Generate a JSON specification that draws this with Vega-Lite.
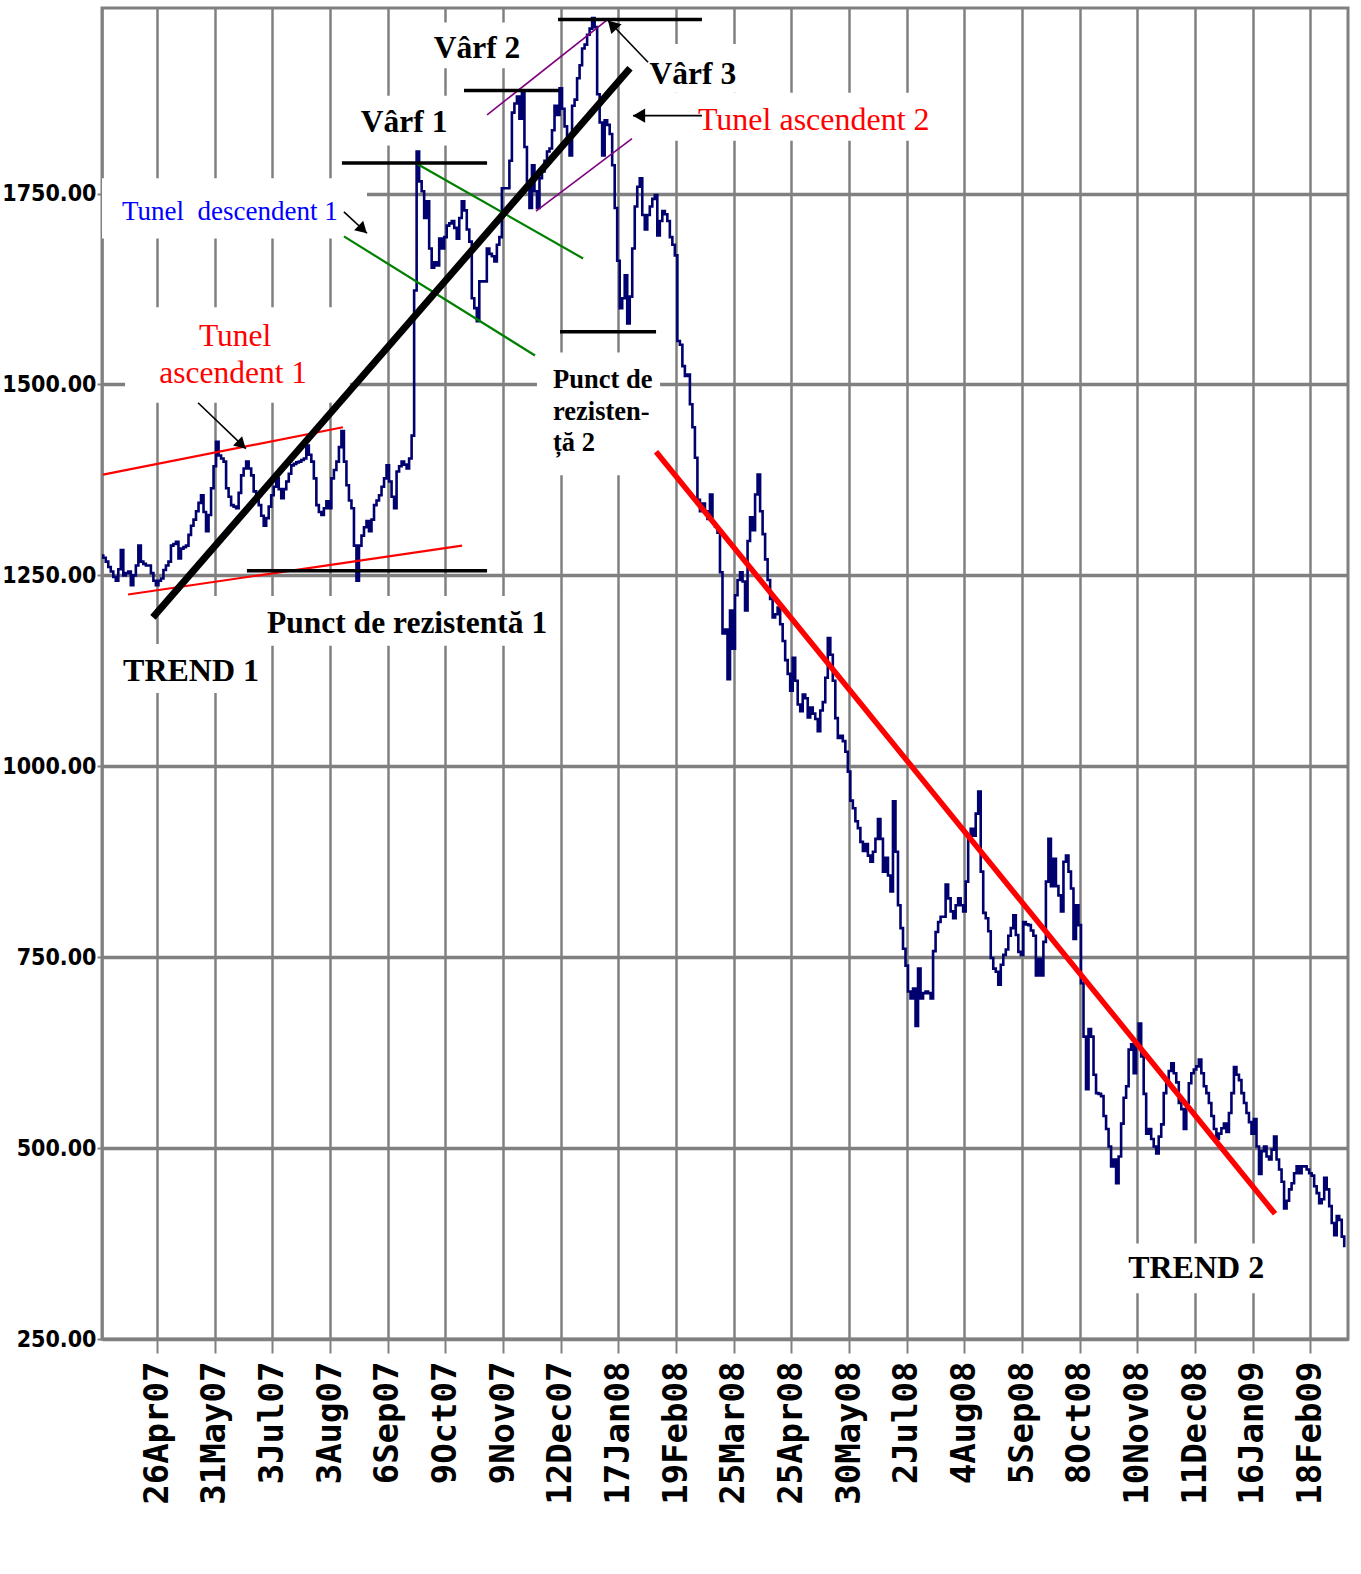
{
"$schema":"https://vega.github.io/schema/vega-lite/v6.json",
"width":1246,"height":1331,
"autosize":{"type":"none"},
"padding":{"left":102,"top":8,"right":13,"bottom":235},
"background":"#ffffff",
"config":{"view":{"stroke":"#808080","strokeWidth":3}},
"datasets":{
"series":[
{"d":0,"v":1276},{"d":1,"v":1273},{"d":2,"v":1268},{"d":3,"v":1261},{"d":4,"v":1255},{"d":5,"v":1248},{"d":6,"v":1243},{"d":7,"v":1258},{"d":8,"v":1283},{"d":9,"v":1250},
{"d":10,"v":1253},{"d":11,"v":1255},{"d":12,"v":1237},{"d":13,"v":1250},{"d":14,"v":1263},{"d":15,"v":1289},{"d":16,"v":1268},{"d":17,"v":1265},{"d":18,"v":1263},{"d":19,"v":1263},
{"d":20,"v":1253},{"d":21,"v":1243},{"d":22,"v":1237},{"d":23,"v":1243},{"d":24,"v":1246},{"d":25,"v":1257},{"d":26,"v":1263},{"d":27,"v":1268},{"d":28,"v":1289},{"d":29,"v":1291},
{"d":30,"v":1294},{"d":31,"v":1272},{"d":32,"v":1285},{"d":33,"v":1287},{"d":34,"v":1289},{"d":35,"v":1303},{"d":36,"v":1315},{"d":37,"v":1323},{"d":38,"v":1334},{"d":39,"v":1345},
{"d":40,"v":1355},{"d":41,"v":1333},{"d":42,"v":1308},{"d":43,"v":1329},{"d":44,"v":1364},{"d":45,"v":1393},{"d":46,"v":1425},{"d":47,"v":1407},{"d":48,"v":1403},{"d":49,"v":1399},
{"d":50,"v":1364},{"d":51,"v":1353},{"d":52,"v":1342},{"d":53,"v":1340},{"d":54,"v":1338},{"d":55,"v":1358},{"d":56,"v":1381},{"d":57,"v":1390},{"d":58,"v":1399},{"d":59,"v":1390},
{"d":60,"v":1381},{"d":61,"v":1360},{"d":62,"v":1351},{"d":63,"v":1342},{"d":64,"v":1328},{"d":65,"v":1315},{"d":66,"v":1325},{"d":67,"v":1340},{"d":68,"v":1355},{"d":69,"v":1366},
{"d":70,"v":1377},{"d":71,"v":1363},{"d":72,"v":1351},{"d":73,"v":1363},{"d":74,"v":1373},{"d":75,"v":1383},{"d":76,"v":1394},{"d":77,"v":1396},{"d":78,"v":1398},{"d":79,"v":1399},
{"d":80,"v":1401},{"d":81,"v":1403},{"d":82,"v":1420},{"d":83,"v":1408},{"d":84,"v":1399},{"d":85,"v":1377},{"d":86,"v":1342},{"d":87,"v":1333},{"d":88,"v":1329},{"d":89,"v":1338},
{"d":90,"v":1347},{"d":91,"v":1338},{"d":92,"v":1377},{"d":93,"v":1388},{"d":94,"v":1399},{"d":95,"v":1418},{"d":96,"v":1439},{"d":97,"v":1399},{"d":98,"v":1368},{"d":99,"v":1348},
{"d":100,"v":1338},{"d":101,"v":1289},{"d":102,"v":1243},{"d":103,"v":1289},{"d":104,"v":1302},{"d":105,"v":1313},{"d":106,"v":1321},{"d":107,"v":1308},{"d":108,"v":1323},{"d":109,"v":1342},
{"d":110,"v":1348},{"d":111,"v":1355},{"d":112,"v":1366},{"d":113,"v":1377},{"d":114,"v":1394},{"d":115,"v":1373},{"d":116,"v":1353},{"d":117,"v":1338},{"d":118,"v":1386},{"d":119,"v":1393},
{"d":120,"v":1399},{"d":121,"v":1395},{"d":122,"v":1390},{"d":123,"v":1403},{"d":124,"v":1433},{"d":125,"v":1623},{"d":126,"v":1805},{"d":127,"v":1766},{"d":128,"v":1753},{"d":129,"v":1718},
{"d":130,"v":1740},{"d":131,"v":1678},{"d":132,"v":1653},{"d":133,"v":1660},{"d":134,"v":1656},{"d":135,"v":1691},{"d":136,"v":1678},{"d":137,"v":1693},{"d":138,"v":1708},{"d":139,"v":1711},
{"d":140,"v":1714},{"d":141,"v":1705},{"d":142,"v":1691},{"d":143,"v":1718},{"d":144,"v":1740},{"d":145,"v":1728},{"d":146,"v":1703},{"d":147,"v":1687},{"d":148,"v":1613},{"d":149,"v":1600},
{"d":150,"v":1583},{"d":151,"v":1635},{"d":152,"v":1635},{"d":153,"v":1635},{"d":154,"v":1678},{"d":155,"v":1671},{"d":156,"v":1668},{"d":157,"v":1661},{"d":158,"v":1683},{"d":159,"v":1693},
{"d":160,"v":1757},{"d":161,"v":1757},{"d":162,"v":1757},{"d":163,"v":1793},{"d":164,"v":1856},{"d":165,"v":1868},{"d":166,"v":1877},{"d":167,"v":1848},{"d":168,"v":1883},{"d":169,"v":1811},
{"d":170,"v":1766},{"d":171,"v":1731},{"d":172,"v":1787},{"d":173,"v":1753},{"d":174,"v":1731},{"d":175,"v":1770},{"d":176,"v":1779},{"d":177,"v":1793},{"d":178,"v":1805},{"d":179,"v":1809},
{"d":180,"v":1833},{"d":181,"v":1865},{"d":182,"v":1853},{"d":183,"v":1888},{"d":184,"v":1861},{"d":185,"v":1838},{"d":186,"v":1818},{"d":187,"v":1800},{"d":188,"v":1865},{"d":189,"v":1873},
{"d":190,"v":1901},{"d":191,"v":1918},{"d":192,"v":1940},{"d":193,"v":1945},{"d":194,"v":1958},{"d":195,"v":1966},{"d":196,"v":1980},{"d":197,"v":1968},{"d":198,"v":1880},{"d":199,"v":1843},
{"d":200,"v":1800},{"d":201,"v":1846},{"d":202,"v":1840},{"d":203,"v":1828},{"d":204,"v":1787},{"d":205,"v":1731},{"d":206,"v":1662},{"d":207,"v":1600},{"d":208,"v":1613},{"d":209,"v":1643},
{"d":210,"v":1580},{"d":211,"v":1615},{"d":212,"v":1678},{"d":213,"v":1733},{"d":214,"v":1759},{"d":215,"v":1770},{"d":216,"v":1722},{"d":217,"v":1703},{"d":218,"v":1722},{"d":219,"v":1733},
{"d":220,"v":1743},{"d":221,"v":1748},{"d":222,"v":1695},{"d":223,"v":1714},{"d":224,"v":1727},{"d":225,"v":1723},{"d":226,"v":1714},{"d":227,"v":1693},{"d":228,"v":1683},{"d":229,"v":1669},
{"d":230,"v":1557},{"d":231,"v":1552},{"d":232,"v":1524},{"d":233,"v":1511},{"d":234,"v":1513},{"d":235,"v":1474},{"d":236,"v":1444},{"d":237,"v":1404},{"d":238,"v":1349},{"d":239,"v":1334},
{"d":240,"v":1344},{"d":241,"v":1334},{"d":242,"v":1324},{"d":243,"v":1356},{"d":244,"v":1319},{"d":245,"v":1314},{"d":246,"v":1306},{"d":247,"v":1254},{"d":248,"v":1174},{"d":249,"v":1179},
{"d":250,"v":1114},{"d":251,"v":1204},{"d":252,"v":1154},{"d":253,"v":1224},{"d":254,"v":1244},{"d":255,"v":1254},{"d":256,"v":1242},{"d":257,"v":1204},{"d":258,"v":1295},{"d":259,"v":1326},
{"d":260,"v":1309},{"d":261,"v":1356},{"d":262,"v":1382},{"d":263,"v":1334},{"d":264,"v":1304},{"d":265,"v":1271},{"d":266,"v":1244},{"d":267,"v":1219},{"d":268,"v":1195},{"d":269,"v":1199},
{"d":270,"v":1208},{"d":271,"v":1186},{"d":272,"v":1164},{"d":273,"v":1139},{"d":274,"v":1121},{"d":275,"v":1099},{"d":276,"v":1142},{"d":277,"v":1112},{"d":278,"v":1081},{"d":279,"v":1072},
{"d":280,"v":1094},{"d":281,"v":1089},{"d":282,"v":1064},{"d":283,"v":1077},{"d":284,"v":1069},{"d":285,"v":1062},{"d":286,"v":1046},{"d":287,"v":1073},{"d":288,"v":1084},{"d":289,"v":1116},
{"d":290,"v":1168},{"d":291,"v":1146},{"d":292,"v":1112},{"d":293,"v":1063},{"d":294,"v":1037},{"d":295,"v":1040},{"d":296,"v":1033},{"d":297,"v":1019},{"d":298,"v":993},{"d":299,"v":955},
{"d":300,"v":945},{"d":301,"v":928},{"d":302,"v":919},{"d":303,"v":901},{"d":304,"v":889},{"d":305,"v":898},{"d":306,"v":883},{"d":307,"v":875},{"d":308,"v":888},{"d":309,"v":905},
{"d":310,"v":931},{"d":311,"v":905},{"d":312,"v":862},{"d":313,"v":880},{"d":314,"v":857},{"d":315,"v":836},{"d":316,"v":954},{"d":317,"v":888},{"d":318,"v":818},{"d":319,"v":788},
{"d":320,"v":761},{"d":321,"v":739},{"d":322,"v":705},{"d":323,"v":696},{"d":324,"v":709},{"d":325,"v":660},{"d":326,"v":735},{"d":327,"v":696},{"d":328,"v":703},{"d":329,"v":705},
{"d":330,"v":703},{"d":331,"v":696},{"d":332,"v":758},{"d":333,"v":783},{"d":334,"v":796},{"d":335,"v":803},{"d":336,"v":803},{"d":337,"v":845},{"d":338,"v":827},{"d":339,"v":810},
{"d":340,"v":801},{"d":341,"v":818},{"d":342,"v":827},{"d":343,"v":818},{"d":344,"v":810},{"d":345,"v":849},{"d":346,"v":905},{"d":347,"v":918},{"d":348,"v":909},{"d":349,"v":938},
{"d":350,"v":967},{"d":351,"v":862},{"d":352,"v":808},{"d":353,"v":801},{"d":354,"v":784},{"d":355,"v":749},{"d":356,"v":735},{"d":357,"v":731},{"d":358,"v":714},{"d":359,"v":740},
{"d":360,"v":753},{"d":361,"v":760},{"d":362,"v":778},{"d":363,"v":788},{"d":364,"v":805},{"d":365,"v":779},{"d":366,"v":757},{"d":367,"v":753},{"d":368,"v":796},{"d":369,"v":793},
{"d":370,"v":792},{"d":371,"v":785},{"d":372,"v":778},{"d":373,"v":726},{"d":374,"v":748},{"d":375,"v":726},{"d":376,"v":770},{"d":377,"v":849},{"d":378,"v":905},{"d":379,"v":843},
{"d":380,"v":879},{"d":381,"v":843},{"d":382,"v":831},{"d":383,"v":810},{"d":384,"v":875},{"d":385,"v":883},{"d":386,"v":862},{"d":387,"v":840},{"d":388,"v":774},{"d":389,"v":818},
{"d":390,"v":792},{"d":391,"v":716},{"d":392,"v":646},{"d":393,"v":577},{"d":394,"v":656},{"d":395,"v":646},{"d":396,"v":596},{"d":397,"v":572},{"d":398,"v":571},{"d":399,"v":568},
{"d":400,"v":542},{"d":401,"v":525},{"d":402,"v":502},{"d":403,"v":476},{"d":404,"v":485},{"d":405,"v":454},{"d":406,"v":489},{"d":407,"v":532},{"d":408,"v":566},{"d":409,"v":581},
{"d":410,"v":629},{"d":411,"v":636},{"d":412,"v":598},{"d":413,"v":637},{"d":414,"v":663},{"d":415,"v":620},{"d":416,"v":571},{"d":417,"v":519},{"d":418,"v":525},{"d":419,"v":512},
{"d":420,"v":502},{"d":421,"v":493},{"d":422,"v":515},{"d":423,"v":531},{"d":424,"v":572},{"d":425,"v":586},{"d":426,"v":601},{"d":427,"v":611},{"d":428,"v":598},{"d":429,"v":586},
{"d":430,"v":559},{"d":431,"v":551},{"d":432,"v":525},{"d":433,"v":559},{"d":434,"v":585},{"d":435,"v":598},{"d":436,"v":603},{"d":437,"v":607},{"d":438,"v":616},{"d":439,"v":598},
{"d":440,"v":581},{"d":441,"v":572},{"d":442,"v":559},{"d":443,"v":542},{"d":444,"v":525},{"d":445,"v":512},{"d":446,"v":519},{"d":447,"v":526},{"d":448,"v":532},{"d":449,"v":521},
{"d":450,"v":546},{"d":451,"v":572},{"d":452,"v":606},{"d":453,"v":596},{"d":454,"v":589},{"d":455,"v":572},{"d":456,"v":559},{"d":457,"v":546},{"d":458,"v":534},{"d":459,"v":519},
{"d":460,"v":538},{"d":461,"v":502},{"d":462,"v":466},{"d":463,"v":496},{"d":464,"v":502},{"d":465,"v":489},{"d":466,"v":485},{"d":467,"v":498},{"d":468,"v":515},{"d":469,"v":485},
{"d":470,"v":472},{"d":471,"v":456},{"d":472,"v":421},{"d":473,"v":431},{"d":474,"v":446},{"d":475,"v":454},{"d":476,"v":467},{"d":477,"v":476},{"d":478,"v":467},{"d":479,"v":476},
{"d":480,"v":476},{"d":481,"v":472},{"d":482,"v":467},{"d":483,"v":464},{"d":484,"v":450},{"d":485,"v":441},{"d":486,"v":428},{"d":487,"v":433},{"d":488,"v":461},{"d":489,"v":446},
{"d":490,"v":424},{"d":491,"v":402},{"d":492,"v":386},{"d":493,"v":411},{"d":494,"v":406},{"d":495,"v":384},{"d":496,"v":372}
],
"boxes":[
{"d":100.9,"v":1878,"d2":140.8,"v2":1813},
{"d":130.0,"v":1974,"d2":169.9,"v2":1914},
{"d":214.6,"v":1946,"d2":255.3,"v2":1882},
{"d":214.6,"v":1882,"d2":332.3,"v2":1819},
{"d":0,"v":1770,"d2":105.7,"v2":1691},
{"d":9.2,"v":1601,"d2":98.9,"v2":1476},
{"d":173.5,"v":1542,"d2":222.6,"v2":1381},
{"d":41.1,"v":1223,"d2":182.7,"v2":1158},
{"d":5.2,"v":1160,"d2":65.0,"v2":1096},
{"d":406.1,"v":375,"d2":465.9,"v2":310}
],
"redThin":[{"d":0.4,"v":1382,"d2":96.1,"v2":1444},{"d":10.4,"v":1225,"d2":143.6,"v2":1289}],
"green":[{"d":125.6,"v":1789,"d2":191.9,"v2":1665},{"d":96.5,"v":1694,"d2":172.7,"v2":1538}],
"purple":[{"d":153.6,"v":1853,"d2":201.4,"v2":1977},{"d":173.1,"v":1727,"d2":211.4,"v2":1822}],
"blackH":[
{"d":57.8,"v":1256,"d2":153.6,"v2":1256},
{"d":95.7,"v":1790,"d2":153.6,"v2":1790},
{"d":144.4,"v":1885,"d2":182.3,"v2":1885},
{"d":181.9,"v":1978,"d2":239.3,"v2":1978},
{"d":182.7,"v":1569,"d2":221.0,"v2":1569}
],
"trend1":[{"d":20.3,"v":1195,"d2":210.6,"v2":1914}],
"trend2":[{"d":221.0,"v":1412,"d2":467.9,"v2":414}],
"arrows":[
{"d":38.3,"v":1476,"d2":57.4,"v2":1416},
{"d":96.5,"v":1726,"d2":105.7,"v2":1698},
{"d":217.8,"v":1922,"d2":201.8,"v2":1977},
{"d":239.3,"v":1852,"d2":211.8,"v2":1852}
],
"headA1":[{"d":55.7,"v":1421}],
"headA2":[{"d":104.0,"v":1703}],
"headA3":[{"d":203.5,"v":1971}],
"headA4":[{"d":214.2,"v":1852}],
"txtBoldCenter":[
{"label":"Vârf 1","d":120.5,"v":1831},
{"label":"Vârf 2","d":149.6,"v":1927},
{"label":"Vârf 3","d":235.7,"v":1894},
{"label":"Punct de rezistentă 1","d":121.7,"v":1175}
],
"txtBoldLeft":[
{"label":"TREND 1","d":8.4,"v":1112},
{"label":"TREND 2","d":409.3,"v":330}
],
"txtBoldSmall":[
{"label":"Punct de","d":179.9,"v":1495},
{"label":"rezisten-","d":179.9,"v":1454},
{"label":"ță 2","d":179.9,"v":1413}
],
"txtRedCenter":[
{"label":"Tunel","d":53.1,"v":1551},
{"label":"ascendent 1","d":52.3,"v":1502}
],
"txtRedLeft":[{"label":"Tunel ascendent 2","d":237.7,"v":1833}],
"txtBlue":[{"label":"Tunel\u00a0 descendent 1","d":8.0,"v":1715}]
},
"encoding":{
"x":{"field":"d","type":"quantitative","scale":{"domain":[0,497],"nice":false,"zero":false},
"axis":{"title":null,"values":[22,45,68,91,114,137,160,183,206,229,252,275,298,321,344,367,390,413,436,459,482],
"labelExpr":"['26Apr07','31May07','3Jul07','3Aug07','6Sep07','9Oct07','9Nov07','12Dec07','17Jan08','19Feb08','25Mar08','25Apr08','30May08','2Jul08','4Aug08','5Sep08','8Oct08','10Nov08','11Dec08','16Jan09','18Feb09'][round((datum.value-22)/23)]",
"labelAngle":270,"labelAlign":"right","labelBaseline":"middle","labelFont":"DejaVu Sans Mono","labelFontSize":34,"labelFontWeight":"bold","labelColor":"#000000","labelPadding":8,"labelOverlap":false,"labelFlush":false,"labelBound":false,
"grid":true,"gridColor":"#808080","gridWidth":2.5,"gridOpacity":1,"domainColor":"#808080","domainWidth":3,"tickColor":"#808080","tickWidth":2,"tickSize":14}},
"y":{"field":"v","type":"quantitative","scale":{"domain":[250,1993],"nice":false,"zero":false},
"axis":{"title":null,"values":[250,500,750,1000,1250,1500,1750],"format":".2f","labelFont":"DejaVu Sans Condensed","labelFontSize":23,"labelFontWeight":"bold","labelColor":"#000000","labelPadding":1,
"grid":true,"gridColor":"#808080","gridWidth":3.5,"gridOpacity":1,"domainColor":"#808080","domainWidth":2.5,"tickColor":"#808080","tickSize":5,"tickWidth":2}}
},
"layer":[
{"data":{"name":"boxes"},"mark":{"type":"rect","fill":"#ffffff","stroke":null},"encoding":{"x2":{"field":"d2"},"y2":{"field":"v2"}}},
{"data":{"name":"series"},"mark":{"type":"line","color":"#00006e","strokeWidth":2.6,"interpolate":"step"}},
{"data":{"name":"redThin"},"mark":{"type":"rule","color":"#ff0000","strokeWidth":2.2},"encoding":{"x2":{"field":"d2"},"y2":{"field":"v2"}}},
{"data":{"name":"green"},"mark":{"type":"rule","color":"#008000","strokeWidth":2.2},"encoding":{"x2":{"field":"d2"},"y2":{"field":"v2"}}},
{"data":{"name":"purple"},"mark":{"type":"rule","color":"#800080","strokeWidth":1.6},"encoding":{"x2":{"field":"d2"},"y2":{"field":"v2"}}},
{"data":{"name":"blackH"},"mark":{"type":"rule","color":"#000000","strokeWidth":3.5},"encoding":{"x2":{"field":"d2"},"y2":{"field":"v2"}}},
{"data":{"name":"trend1"},"mark":{"type":"rule","color":"#000000","strokeWidth":7},"encoding":{"x2":{"field":"d2"},"y2":{"field":"v2"}}},
{"data":{"name":"trend2"},"mark":{"type":"rule","color":"#ff0000","strokeWidth":5.5},"encoding":{"x2":{"field":"d2"},"y2":{"field":"v2"}}},
{"data":{"name":"arrows"},"mark":{"type":"rule","color":"#000000","strokeWidth":1.6},"encoding":{"x2":{"field":"d2"},"y2":{"field":"v2"}}},
{"data":{"name":"headA1"},"mark":{"type":"point","shape":"triangle-up","filled":true,"color":"#000000","opacity":1,"size":170,"angle":134}},
{"data":{"name":"headA2"},"mark":{"type":"point","shape":"triangle-up","filled":true,"color":"#000000","opacity":1,"size":170,"angle":134}},
{"data":{"name":"headA3"},"mark":{"type":"point","shape":"triangle-up","filled":true,"color":"#000000","opacity":1,"size":200,"angle":316}},
{"data":{"name":"headA4"},"mark":{"type":"point","shape":"triangle-up","filled":true,"color":"#000000","opacity":1,"size":200,"angle":270}},
{"data":{"name":"txtBoldCenter"},"mark":{"type":"text","font":"Liberation Serif","fontSize":31.5,"fontWeight":"bold","align":"center","baseline":"alphabetic","color":"#000000"},"encoding":{"text":{"field":"label"}}},
{"data":{"name":"txtBoldLeft"},"mark":{"type":"text","font":"Liberation Serif","fontSize":32,"fontWeight":"bold","align":"left","baseline":"alphabetic","color":"#000000"},"encoding":{"text":{"field":"label"}}},
{"data":{"name":"txtBoldSmall"},"mark":{"type":"text","font":"Liberation Serif","fontSize":26.5,"fontWeight":"bold","align":"left","baseline":"alphabetic","color":"#000000"},"encoding":{"text":{"field":"label"}}},
{"data":{"name":"txtRedCenter"},"mark":{"type":"text","font":"Liberation Serif","fontSize":31.5,"align":"center","baseline":"alphabetic","color":"#ff0000"},"encoding":{"text":{"field":"label"}}},
{"data":{"name":"txtRedLeft"},"mark":{"type":"text","font":"Liberation Serif","fontSize":32,"align":"left","baseline":"alphabetic","color":"#ff0000"},"encoding":{"text":{"field":"label"}}},
{"data":{"name":"txtBlue"},"mark":{"type":"text","font":"Liberation Serif","fontSize":27,"align":"left","baseline":"alphabetic","color":"#0000ff"},"encoding":{"text":{"field":"label"}}}
]
}
